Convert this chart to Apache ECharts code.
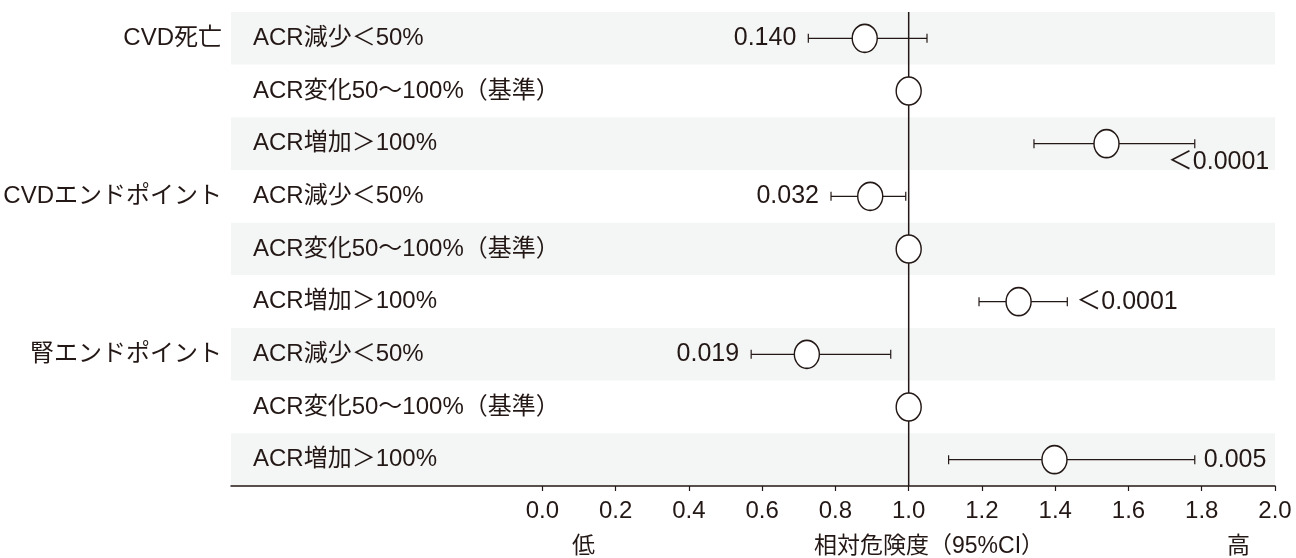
<!DOCTYPE html>
<html>
<head>
<meta charset="utf-8">
<script src="https://cdn.jsdelivr.net/npm/echarts@6/dist/echarts.min.js"></script>
<style>
  html, body { margin: 0; padding: 0; background: #ffffff; }
  #chart { width: 1296px; height: 558px; }
</style>
</head>
<body>
<div id="chart"></div>
<script>
// Outcome groups (shown once, on the first row of each block)
const groupLabels = ['CVD死亡', '', '', 'CVDエンドポイント', '', '', '腎エンドポイント', '', ''];
// ACR change categories, one per row
const rowLabels = [
  'ACR減少＜50%', 'ACR変化50～100%（基準）', 'ACR増加＞100%',
  'ACR減少＜50%', 'ACR変化50～100%（基準）', 'ACR増加＞100%',
  'ACR減少＜50%', 'ACR変化50～100%（基準）', 'ACR増加＞100%'
];
// Relative risk point estimates
const hazard = [0.88, 1.0, 1.54, 0.895, 1.0, 1.30, 0.722, 1.0, 1.398];
// 95% CI bounds (null for the reference category)
const ciLow  = [0.726, null, 1.342, 0.788, null, 1.192, 0.570, null, 1.109];
const ciHigh = [1.050, null, 1.781, 0.992, null, 1.433, 0.951, null, 1.781];
// P values
const pValues = ['0.140', '', '＜0.0001', '0.032', '', '＜0.0001', '0.019', '', '0.005'];
// Where each P value sits relative to its CI bar
const pPlacement = ['left', null, 'below', 'left', null, 'right', 'left', null, 'right'];
// Tick values on the risk axis
const tickValues = [0, 0.2, 0.4, 0.6, 0.8, 1.0, 1.2, 1.4, 1.6, 1.8, 2.0];
// No-effect reference value
const referenceValue = 1.0;

const ink = '#231815';
const fontFamily = '"Liberation Sans", "Noto Sans CJK JP", sans-serif';

const ciData = [];
hazard.forEach((v, i) => {
  if (ciLow[i] !== null) ciData.push([ciLow[i], ciHigh[i], i]);
});
const pointData = hazard.map((v, i) => [v, i]);

const chart = echarts.init(document.getElementById('chart'), null, { renderer: 'canvas' });

chart.setOption({
  backgroundColor: '#ffffff',
  animation: false,
  textStyle: { fontFamily: fontFamily, color: ink },
  grid: { left: 231, right: 21, top: 12, bottom: 72 },
  xAxis: {
    type: 'value',
    min: -0.85,
    max: 2.0,
    axisLine: { show: true, lineStyle: { color: ink, width: 1.5 } },
    axisTick: { show: true, length: 5, customValues: tickValues, lineStyle: { color: ink, width: 1.2 } },
    axisLabel: {
      customValues: tickValues,
      formatter: v => v.toFixed(1),
      fontSize: 24,
      margin: 13,
      color: ink,
      fontFamily: fontFamily
    },
    splitLine: { show: false }
  },
  yAxis: [
    {
      type: 'category',
      data: rowLabels,
      inverse: true,
      position: 'left',
      axisLine: { show: false },
      axisTick: { show: false },
      axisLabel: { inside: true, margin: 22, fontSize: 24, color: ink, fontFamily: fontFamily },
      splitLine: { show: false },
      splitArea: { show: true, areaStyle: { color: ['#f4f6f6', '#ffffff'] } }
    },
    {
      type: 'category',
      data: groupLabels,
      inverse: true,
      position: 'left',
      axisLine: { show: false },
      axisTick: { show: false },
      axisLabel: { margin: 9, fontSize: 24, color: ink, fontFamily: fontFamily },
      splitLine: { show: false },
      splitArea: { show: false }
    }
  ],
  graphic: [
    { type: 'text', left: 572, top: 535, style: { text: '低', font: '23px ' + fontFamily, fill: ink } },
    { type: 'text', left: 814, top: 535, style: { text: '相対危険度（95%CI）', font: '23px ' + fontFamily, fill: ink } },
    { type: 'text', left: 1227, top: 535, style: { text: '高', font: '23px ' + fontFamily, fill: ink } }
  ],
  series: [
    {
      // vertical line at RR = 1 spanning the whole plot height
      type: 'custom',
      xAxisIndex: 0,
      yAxisIndex: 0,
      z: 1,
      data: [[referenceValue, 0]],
      renderItem: function (params, api) {
        const p = api.coord([api.value(0), api.value(1)]);
        const cs = params.coordSys;
        return {
          type: 'line',
          shape: { x1: p[0], y1: cs.y, x2: p[0], y2: cs.y + cs.height },
          style: { stroke: ink, lineWidth: 1.5 }
        };
      }
    },
    {
      // 95% CI whiskers with P values
      type: 'custom',
      xAxisIndex: 0,
      yAxisIndex: 0,
      z: 2,
      data: ciData,
      renderItem: function (params, api) {
        const row = api.value(2);
        const a = api.coord([api.value(0), row]);
        const b = api.coord([api.value(1), row]);
        const cap = 4.5;
        const lineStyle = { stroke: ink, lineWidth: 1.2 };
        const children = [
          { type: 'line', shape: { x1: a[0], y1: a[1], x2: b[0], y2: b[1] }, style: lineStyle },
          { type: 'line', shape: { x1: a[0], y1: a[1] - cap, x2: a[0], y2: a[1] + cap }, style: lineStyle },
          { type: 'line', shape: { x1: b[0], y1: b[1] - cap, x2: b[0], y2: b[1] + cap }, style: lineStyle }
        ];
        const p = pValues[row];
        const place = pPlacement[row];
        const font = '25px ' + fontFamily;
        if (place === 'left') {
          children.push({ type: 'text', x: a[0] - 12, y: a[1],
            style: { text: p, font: font, fill: ink, align: 'right', verticalAlign: 'middle' } });
        } else if (place === 'right') {
          children.push({ type: 'text', x: b[0] + 9, y: b[1],
            style: { text: p, font: font, fill: ink, align: 'left', verticalAlign: 'middle' } });
        } else if (place === 'below') {
          children.push({ type: 'text', x: b[0] - 27, y: b[1] + 18,
            style: { text: p, font: font, fill: ink, align: 'left', verticalAlign: 'middle' } });
        }
        return { type: 'group', children: children };
      }
    },
    {
      type: 'scatter',
      xAxisIndex: 0,
      yAxisIndex: 0,
      z: 5,
      data: pointData,
      symbol: 'circle',
      symbolSize: [25, 28],
      itemStyle: { color: '#ffffff', borderColor: ink, borderWidth: 1.5, opacity: 1 }
    }
  ]
});
</script>
</body>
</html>
